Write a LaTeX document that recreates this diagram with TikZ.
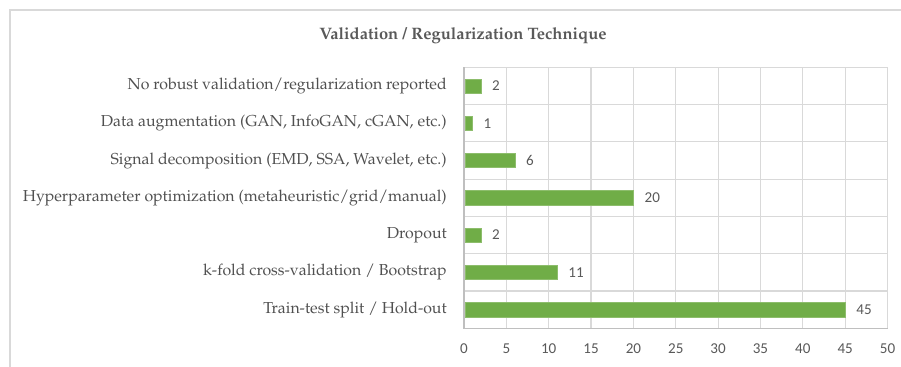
\documentclass[tikz,border=0pt]{standalone}
\usepackage[T1]{fontenc}
\usepackage{fontspec}
\newfontfamily\calib{Carlito}
\newcommand{\palfont}{\fontencoding{T1}\fontfamily{ppl}\selectfont}
\definecolor{bargreen}{HTML}{70AD47}
\definecolor{gridgray}{HTML}{D9D9D9}
\definecolor{axisgray}{HTML}{BFBFBF}
\definecolor{ticktext}{HTML}{595959}
\definecolor{cattext}{HTML}{505050}
\begin{document}
\begin{tikzpicture}[x=0.75pt,y=-0.75pt,
  gridline/.style={draw=gridgray,line width=0.9pt},
  axisline/.style={draw=axisgray,line width=0.9pt},
  bar/.style={fill=bargreen,draw=bargreen!80!white,line width=0.4pt},
  catlabel/.style={anchor=east,inner sep=0pt,text=cattext,font=\palfont\fontsize{11.9}{14}\selectfont},
  vallabel/.style={anchor=west,inner sep=0pt,text=ticktext,font=\calib\fontsize{11.3}{13}\selectfont},
  ticklabel/.style={anchor=center,inner sep=0pt,text=ticktext,font=\calib\fontsize{11.3}{13}\selectfont},
  titlestyle/.style={anchor=center,inner sep=0pt,text=ticktext,font=\palfont\bfseries\fontsize{12.4}{14}\selectfont}]
\useasboundingbox (0,0) rectangle (901,367);
% outer chart border
\draw[gridline] (10,367) -- (10,10) -- (901,10);
% title
\node[titlestyle] (title) at (463,35.5) {Validation / Regularization Technique};
% grid
\def\xo{464}\def\sc{8.47}\def\yt{67.3}\def\bh{37.29}
\foreach \v in {5,10,...,50}
  \draw[gridline] ({\xo+\v*\sc},\yt) -- ({\xo+\v*\sc},{\yt+7*\bh});
\foreach \k in {0,...,6}
  \draw[gridline] (\xo,{\yt+\k*\bh}) -- ({\xo+50*\sc},{\yt+\k*\bh});
% axes
\draw[axisline] (\xo,\yt) -- (\xo,{\yt+7*\bh}) -- ({\xo+50*\sc},{\yt+7*\bh});
% bars, values, categories
\foreach \i/\val/\lab in {
  0/2/{No robust validation/regularization reported},
  1/1/{Data augmentation (GAN, InfoGAN, cGAN, etc.)},
  2/6/{Signal decomposition (EMD, SSA, Wavelet, etc.)},
  3/20/{Hyperparameter optimization (metaheuristic/grid/manual)},
  4/2/{Dropout},
  5/11/{k-fold cross-validation / Bootstrap},
  6/45/{Train-test split / Hold-out}} {
  \draw[bar] ({\xo+1},{\yt+(\i+0.5)*\bh-7.15}) rectangle ({\xo+\val*\sc},{\yt+(\i+0.5)*\bh+7.15});
  \node[vallabel] (val\i) at ({\xo+\val*\sc+11},{\yt+(\i+0.5)*\bh}) {\val};
  \node[catlabel] (cat\i) at (447,{\yt+(\i+0.5)*\bh}) {\lab};
}
% tick labels
\foreach \v in {0,5,...,50}
  \node[ticklabel] (tick\v) at ({\xo+\v*\sc},349) {\v};
\end{tikzpicture}
\end{document}
